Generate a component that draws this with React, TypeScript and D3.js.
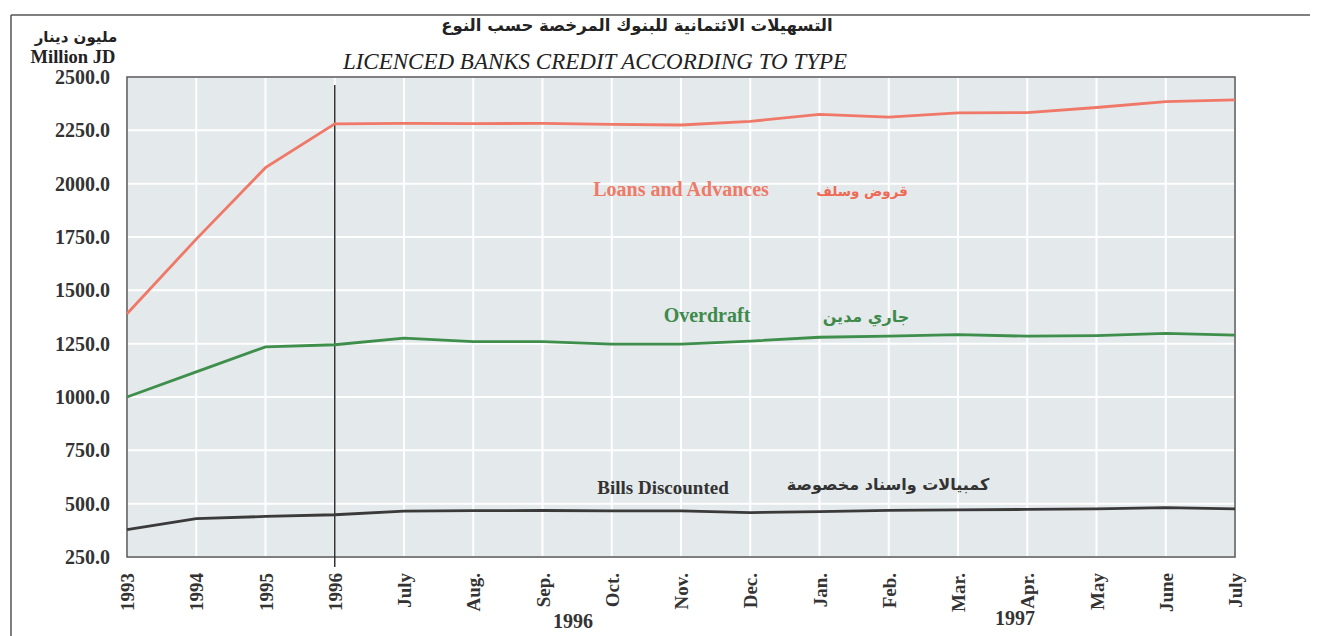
import React from "react";
import * as d3 from "d3";

const categories = ["1993", "1994", "1995", "1996", "July", "Aug.", "Sep.", "Oct.", "Nov.", "Dec.", "Jan.", "Feb.", "Mar.", "Apr.", "May", "June", "July"];
const loans = [1390, 1740, 2075, 2280, 2283, 2281, 2283, 2278, 2275, 2292, 2325, 2312, 2332, 2333, 2357, 2385, 2393];
const overdraft = [1000, 1118, 1235, 1245, 1276, 1260, 1260, 1248, 1248, 1262, 1280, 1285, 1292, 1285, 1288, 1298, 1290];
const bills = [378, 430, 440, 448, 465, 467, 468, 466, 466, 458, 463, 469, 471, 473, 476, 481, 476];
const yTicks = [250, 500, 750, 1000, 1250, 1500, 1750, 2000, 2250, 2500];

const W = 1322, H = 636;
const L = 127, R = 1235, T = 77, B = 557;

export default function App() {
  const x = d3.scalePoint<string>().domain(categories.map((c, i) => i + "")).range([L, R]);
  const y = d3.scaleLinear().domain([250, 2500]).range([B, T]);
  const xi = (i: number) => x(i + "") as number;
  const line = d3.line<number>().x((_, i) => xi(i)).y((d) => y(d));
  const serif = "'Liberation Serif', 'DejaVu Serif', serif";
  const arab = "'DejaVu Sans', 'Noto Sans', sans-serif";
  return (
    <svg width={W} height={H} style={{ position: "absolute", left: 0, top: 0, background: "#fff" }}>
      <line x1={11} y1={15} x2={1310} y2={15} stroke="#555" strokeWidth={1.5} />
      <line x1={11} y1={15} x2={11} y2={H} stroke="#555" strokeWidth={1.5} />
      <text x={637} y={31} textAnchor="middle" fontFamily={arab} fontWeight="bold" fontSize={16.5} fill="#222" direction="rtl">التسهيلات الائتمانية للبنوك المرخصة حسب النوع</text>
      <text x={595} y={69} textAnchor="middle" fontFamily={serif} fontStyle="italic" fontSize={23} fill="#222">LICENCED BANKS CREDIT ACCORDING TO TYPE</text>
      <text x={76} y={42} textAnchor="middle" fontFamily={arab} fontWeight="bold" fontSize={15} fill="#222" direction="rtl">مليون دينار</text>
      <text x={73} y={63} textAnchor="middle" fontFamily={serif} fontWeight="bold" fontSize={18.5} fill="#222">Million JD</text>
      <rect x={L} y={T} width={R - L} height={B - T} fill="#e4e9eb" />
      {yTicks.map((t) => (
        <line key={"h" + t} x1={L} x2={R} y1={y(t)} y2={y(t)} stroke="#fff" strokeWidth={2} />
      ))}
      {categories.map((c, i) => (
        <line key={"v" + i} x1={xi(i)} x2={xi(i)} y1={T} y2={B} stroke="#fff" strokeWidth={2} />
      ))}
      <rect x={L} y={T} width={R - L} height={B - T} fill="none" stroke="#555" strokeWidth={1.5} />
      {yTicks.map((t) => (
        <text key={"yt" + t} x={110} y={y(t) + 7} textAnchor="end" fontFamily={serif} fontWeight="bold" fontSize={20} fill="#333">{t.toFixed(1)}</text>
      ))}
      {categories.map((c, i) => (
        <text key={"xt" + i} transform={`translate(${xi(i) + 7},${573}) rotate(-90)`} textAnchor="end" fontFamily={serif} fontWeight="bold" fontSize={19} fill="#333">{c}</text>
      ))}
      <text x={573} y={628} textAnchor="middle" fontFamily={serif} fontWeight="bold" fontSize={20} fill="#333">1996</text>
      <text x={1015} y={625} textAnchor="middle" fontFamily={serif} fontWeight="bold" fontSize={20} fill="#333">1997</text>
      <line x1={xi(3)} x2={xi(3)} y1={85} y2={567} stroke="#333" strokeWidth={1.5} />
      <path d={line(loans) || ""} fill="none" stroke="#f07868" strokeWidth={2.8} />
      <path d={line(overdraft) || ""} fill="none" stroke="#3e8e4c" strokeWidth={2.8} />
      <path d={line(bills) || ""} fill="none" stroke="#3a3a3a" strokeWidth={2.8} />
      <text x={681} y={196} textAnchor="middle" fontFamily={serif} fontWeight="bold" fontSize={20} fill="#ee7a68">Loans and Advances</text>
      <text x={862} y={196} textAnchor="middle" fontFamily={arab} fontWeight="bold" fontSize={13.5} fill="#ee6a55" direction="rtl">قروض وسلف</text>
      <text x={707} y={322} textAnchor="middle" fontFamily={serif} fontWeight="bold" fontSize={20} fill="#3e8a4a">Overdraft</text>
      <text x={866} y={322} textAnchor="middle" fontFamily={arab} fontWeight="bold" fontSize={16} fill="#3e8a4a" direction="rtl">جاري مدين</text>
      <text x={663} y={494} textAnchor="middle" fontFamily={serif} fontWeight="bold" fontSize={19} fill="#333">Bills Discounted</text>
      <text x={888} y={490} textAnchor="middle" fontFamily={arab} fontWeight="bold" fontSize={16} fill="#333" direction="rtl">كمبيالات واسناد مخصوصة</text>
    </svg>
  );
}
